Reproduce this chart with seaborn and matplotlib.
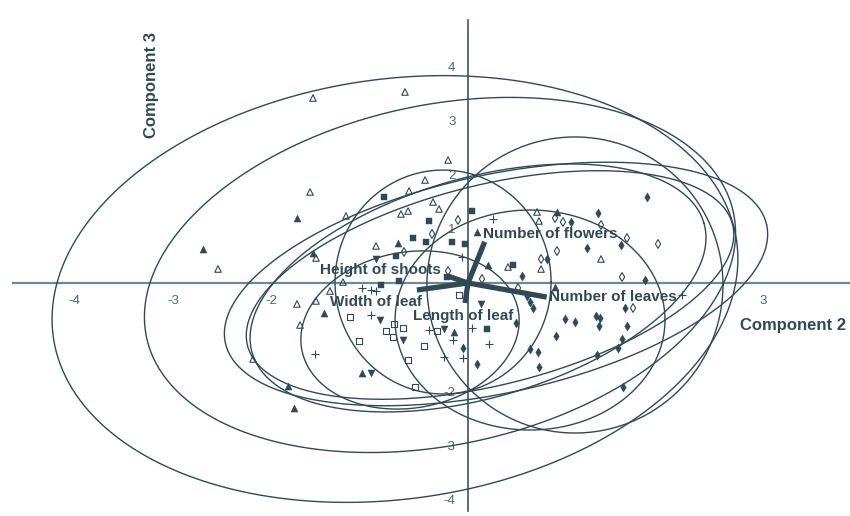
import numpy as np
import pandas as pd
import matplotlib
matplotlib.use("Agg")
import matplotlib.pyplot as plt
import seaborn as sns

sns.set_theme(style="white")
plt.rcParams['font.family'] = ['Liberation Sans', 'DejaVu Sans']

INK = '#2f4a55'
AXIS_H = '#6d8891'
AXIS_V = '#3a5560'
TICK_TXT = '#4d6670'

# ---- observation scores (Component 2, Component 3) per group ----
tri_open_x = [-1.577, -0.641, -0.203, -0.437, -0.356, -0.295, -1.607, -2.543, -1.241, -0.936,
              -0.682, -0.610, -0.600, -1.546, -1.740, -1.546, -1.709, -2.187, 0.702, 0.722,
              1.353, 0.743, 0.407, -1.272, -1.404]
tri_open_y = [3.413, 3.524, 2.269, 1.900, 1.494, 1.365, 1.679, 0.258, 1.236, 0.683,
              1.273, 1.328, 1.697, 0.461, -0.387, -0.332, -0.775, -1.402, 1.310, 1.144,
              0.443, 0.258, 0.295, 0.018, -0.148]

tri_fill_x = [-2.696, -1.740, -0.712, 0.092, -1.465, -1.078, -1.831, -1.770, -0.142, 0.905,
              -1.577, 0.885, 0.203]
tri_fill_y = [0.627, 1.199, 0.738, 0.941, -0.554, -1.661, -1.900, -2.306, -0.904, 1.310,
              0.554, -0.074, 0.332]

tri_down_x = [-0.936, -0.895, -0.987, -0.661, 0.132, -0.244]
tri_down_y = [0.443, -0.683, -1.661, -1.052, -0.387, -0.849]

sq_fill_x = [-0.855, -0.397, -0.560, -0.427, -0.163, -0.732, -0.031, -0.702, 0.041, 0.458,
             0.193, -0.885, -0.214]
sq_fill_y = [1.587, 1.144, 0.830, 0.756, 0.756, 0.498, 0.720, 0.037, 1.328, 0.332,
             -0.849, -0.037, 0.111]

sq_open_x = [-1.200, -1.109, -0.834, -0.753, -0.763, -0.661, -0.610, -0.539, -0.448, -0.315, -0.092]
sq_open_y = [-0.627, -1.070, -0.886, -0.756, -0.996, -0.830, -1.421, -1.919, -1.162, -0.886, -0.221]

plus_x = [-1.078, -0.987, -0.936, -0.987, -0.061, -1.556, -0.244, -0.051, -0.397, -0.153,
          0.041, 0.214, 0.254, 2.177]
plus_y = [-0.092, -0.129, -0.148, -0.590, 0.480, -1.310, -1.365, -1.384, -0.867, -1.052,
          -0.830, -1.125, 1.181, -0.221]

dia_open_x = [-0.102, -0.366, -0.651, -0.203, 0.885, 0.966, 1.353, 1.617, 0.905, 0.743,
              1.567, 1.933, 0.142, 0.509, 1.679]
dia_open_y = [1.162, 0.904, 0.572, 0.221, 1.199, 1.125, 1.070, 0.830, 0.590, 0.443,
              0.111, 0.720, 0.074, -0.092, -0.461]

dia_fill_x = [1.048, 1.211, 0.804, 0.549, 1.801, 1.821, 1.556, 0.987, 1.088, 1.302,
              1.343, 1.333, 1.617, 0.895, 1.567, 1.526, 1.312, 0.631, 0.712, 0.722,
              1.577, 0.631, 0.661, 0.600, -0.051, 0.092, 0.488, 1.597, 1.322]
dia_fill_y = [1.125, 0.646, 0.443, 0.129, 0.055, 1.587, 0.701, -0.664, -0.720, -0.609,
              -0.646, -0.793, -0.793, -0.978, -1.033, -1.199, -1.328, -1.218, -1.273, -1.550,
              -1.919, -0.351, -0.461, -0.240, -1.199, -1.494, -0.738, -0.461, 1.291]

# ---- group confidence ellipses ----
# centre (data units), semi-axes (Component-2 units), screen rotation (deg)
ell_cx = [-0.743, -0.285, 0.285, 0.224, 0.102, -0.254, 1.088, -0.590, 0.631]
ell_cy = [-0.111, 0.148, -0.018, -0.037, -0.092, 0.018, -0.037, -0.867, -0.683]
ell_a = [3.510, 3.052, 2.818, 2.543, 2.391, 1.099, 1.506, 1.119, 1.373]
ell_b = [2.136, 1.729, 1.109, 1.017, 1.119, 1.139, 1.506, 0.793, 1.119]
ell_ang = [8, 12, 12.3, 14, 16, 0, 0, 10, 0]

# ---- variable loadings ----
var_names = ["Number of flowers", "Number of leaves", "Height of shoots", "Width of leaf", "Length of leaf"]
load_x = [0.17, 0.80, -0.21, -0.52, -0.03]
load_y = [0.76, -0.26, 0.13, -0.13, -0.37]
lab_x = [0.153, 0.824, -1.506, -1.404, -0.560]
lab_y = [0.904, -0.258, 0.240, -0.350, -0.610]

# ---- axes ticks ----
xticks = [-4, -3, -2, -1, 1, 2, 3]
xtick_labels = ["-4", "-3", "-2", "", "", "", "3"]
yticks = [-4, -3, -2, -1, 1, 2, 3, 4]
ytick_labels = ["-4", "-3", "-2", "", "1", "2", "3", "4"]

XLIM = (-4.761, 3.886)
YLIM = (-4.299, 5.221)

fig = plt.figure(figsize=(8.5, 5.16), dpi=100)
ax = fig.add_axes([0, 0, 1, 1])
ax.set_xlim(*XLIM)
ax.set_ylim(*YLIM)

# spines through the origin act as the two component axes
for side in ("top", "right"):
    ax.spines[side].set_visible(False)
ax.spines["bottom"].set_position(("data", 0))
ax.spines["left"].set_position(("data", 0))
ax.spines["bottom"].set_bounds(-4.63, XLIM[1])
ax.spines["left"].set_bounds(-4.2, 4.85)
ax.spines["bottom"].set_color(AXIS_H)
ax.spines["bottom"].set_linewidth(1.6)
ax.spines["left"].set_color(AXIS_V)
ax.spines["left"].set_linewidth(1.2)
ax.spines["bottom"].set_zorder(1)
ax.spines["left"].set_zorder(1)

ax.set_xticks(xticks, xtick_labels)
ax.set_yticks(yticks, ytick_labels)
ax.tick_params(axis="x", direction="out", length=6, width=1, color=AXIS_H,
               labelsize=9.5, labelcolor=TICK_TXT, pad=3)
ax.tick_params(axis="y", direction="out", length=6, width=1, color=AXIS_V,
               labelsize=9.5, labelcolor=TICK_TXT, pad=3)
ax.grid(False)
ax.set_xlabel("")
ax.set_ylabel("")

# screen aspect: pixels per y-unit relative to pixels per x-unit
W, H = fig.get_size_inches() * fig.dpi
k = (H / (YLIM[1] - YLIM[0])) / (W / (XLIM[1] - XLIM[0]))

t = np.linspace(0, 2 * np.pi, 400)
for cx, cy, a, b, ang in zip(ell_cx, ell_cy, ell_a, ell_b, ell_ang):
    th = np.deg2rad(ang)
    u, v = a * np.cos(t), b * np.sin(t)
    ex = cx + u * np.cos(th) - v * np.sin(th)
    ey = cy + (u * np.sin(th) + v * np.cos(th)) / k
    ax.plot(ex, ey, color=INK, lw=1.0, zorder=2)

# group scatter
open_groups = [
    (tri_open_x, tri_open_y, "^", 22),
    (sq_open_x, sq_open_y, "s", 14),
    (dia_open_x, dia_open_y, "d", 20),
]
fill_groups = [
    (tri_fill_x, tri_fill_y, "^", 26),
    (tri_down_x, tri_down_y, "v", 26),
    (sq_fill_x, sq_fill_y, "s", 18),
    (dia_fill_x, dia_fill_y, "d", 22),
]
for gx, gy, m, s in open_groups:
    sns.scatterplot(x=gx, y=gy, marker=m, s=s, color=INK, facecolor="none",
                    edgecolor=INK, linewidth=0.8, ax=ax, zorder=3, legend=False)
for gx, gy, m, s in fill_groups:
    sns.scatterplot(x=gx, y=gy, marker=m, s=s, color=INK, edgecolor=INK,
                    linewidth=0.3, ax=ax, zorder=3, legend=False)
sns.scatterplot(x=plus_x, y=plus_y, marker="+", s=30, color=INK, linewidth=0.8,
                ax=ax, zorder=3, legend=False)

# loading vectors
for lx, ly in zip(load_x, load_y):
    ax.plot([0, lx], [0, ly], color=INK, lw=3.8, solid_capstyle="butt", zorder=4)
for name, tx, ty in zip(var_names, lab_x, lab_y):
    ax.text(tx, ty, name, ha="left", va="center", fontsize=11, fontweight="bold",
            color=INK, zorder=5)

ax.text(-3.215, 3.65, "Component 3", rotation=90, ha="center", va="center",
        fontsize=12, fontweight="bold", color=INK)
ax.text(3.306, -0.79, "Component 2", ha="center", va="center",
        fontsize=12, fontweight="bold", color=INK)

fig.savefig("out.png", dpi=100, facecolor="white")
